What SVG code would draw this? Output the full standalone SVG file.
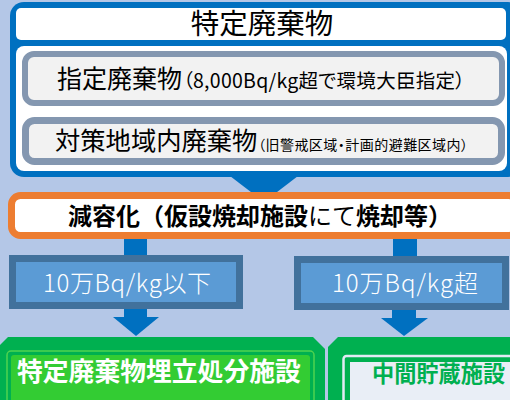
<svg xmlns="http://www.w3.org/2000/svg" width="510" height="400" viewBox="0 0 510 400">
<style>
text{font-family:"Noto Sans CJK JP","Noto Sans",sans-serif;}
.blk{fill:#000;}
.wt{fill:#fff;}
.palt{font-feature-settings:"palt";}
.arrow{fill:#0070c0;}
.lb{fill:#5b9bd5;stroke:#41719c;stroke-width:7;}
.gray{fill:#f2f2f2;stroke:#8497b0;}
</style>
<rect x="0" y="0" width="510" height="400" fill="#b4c7e7"/>
<g id="connectors">
<polygon class="arrow" points="230,176 298,176 264,202"/>
<rect class="arrow" x="124" y="236" width="23" height="22"/>
<rect class="arrow" x="393" y="236" width="24" height="23"/>
<rect class="arrow" x="124" y="306" width="23" height="13"/>
<polygon class="arrow" points="113,317 159,317 136,336"/>
<rect class="arrow" x="392" y="307" width="24" height="12"/>
<polygon class="arrow" points="381,318 428,318 404,336"/>
</g>
<g id="node-tokutei">
<rect x="10" y="2" width="512" height="175" rx="14" fill="#0070c0"/>
<rect x="16" y="8" width="490" height="32" rx="5" fill="#fff"/>
<rect x="16" y="46" width="491" height="125" rx="8" fill="#fff"/>
<text class="blk" x="262" y="34" font-size="28.5" text-anchor="middle">特定廃棄物</text>
</g>
<g id="node-shitei">
<rect class="gray" x="25" y="54" width="477" height="49" rx="9" stroke-width="6"/>
<text class="blk" x="57" y="88" font-size="25">指定廃棄物</text>
<text class="blk palt" x="183" y="88" font-size="19.5" textLength="282">（8,000Bq/kg超で環境大臣指定）</text>
</g>
<g id="node-taisaku">
<rect class="gray" x="25.5" y="120.5" width="476" height="41" rx="9" stroke-width="7"/>
<text class="blk" x="55" y="150" font-size="25.3">対策地域内廃棄物</text>
<text class="blk palt" x="258" y="150" font-size="14" textLength="210">（旧警戒区域・計画的避難区域内）</text>
</g>
<g id="node-genyouka">
<rect x="11.5" y="195.5" width="506" height="40" rx="9" fill="#fff" stroke="#ed7d31" stroke-width="7"/>
<text class="blk" x="68" y="225" font-size="24"><tspan font-weight="bold">減容化（仮設焼却施設</tspan><tspan>にて</tspan><tspan font-weight="bold">焼却等）</tspan></text>
</g>
<g id="node-ika">
<rect class="lb" x="12.5" y="258.5" width="227" height="47"/>
<text class="wt" x="43" y="292" font-size="24" font-weight="300" textLength="168">10万Bq/kg以下</text>
</g>
<g id="node-cho">
<rect class="lb" x="297.5" y="259.5" width="208" height="47"/>
<text class="wt" x="332" y="292" font-size="24" font-weight="300" textLength="146">10万Bq/kg超</text>
</g>
<g id="node-umetate">
<polygon points="8,337 313,337 325,349 325,420 -10,420 -10,355" fill="#00b050"/>
<rect x="7" y="351" width="307" height="60" rx="4" fill="none" stroke="#4fd34f" stroke-width="1.5"/>
<rect x="11" y="355" width="299" height="55" rx="3" fill="#33cc33"/>
<text class="wt" x="17" y="381" font-size="25.8" font-weight="bold">特定廃棄物埋立処分施設</text>
</g>
<g id="node-chukan">
<polygon points="338,337 520,337 520,420 328,420 328,347" fill="#00b050"/>
<rect x="343.5" y="356" width="180" height="60" rx="3" fill="none" stroke="#e2eaf5" stroke-width="2.5"/>
<rect x="350" y="362" width="170" height="50" fill="#e9eef6"/>
<text x="372" y="382" font-size="22.2" font-weight="bold" fill="#00b050">中間貯蔵施設</text>
</g>
</svg>
